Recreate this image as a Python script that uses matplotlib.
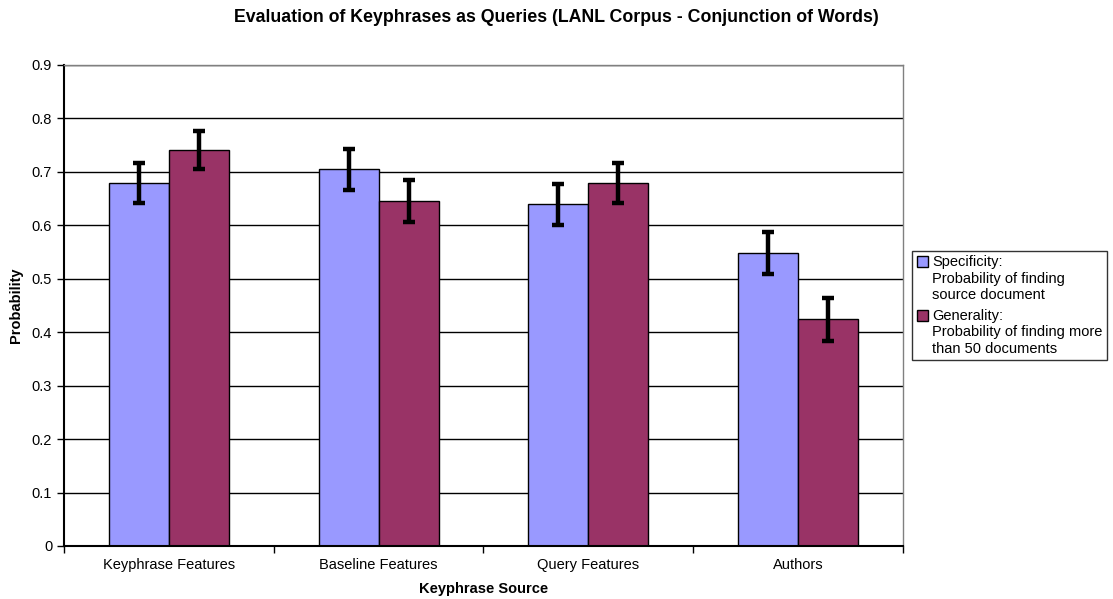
import numpy as np
import matplotlib
matplotlib.use("Agg")
from matplotlib import pyplot as plt
from matplotlib.ticker import FixedLocator
from matplotlib.legend_handler import HandlerPatch
from matplotlib.patches import Rectangle

plt.rcParams['font.family'] = ['Liberation Sans', 'DejaVu Sans']

categories = ["Keyphrase Features", "Baseline Features", "Query Features", "Authors"]
specificity = [0.679, 0.705, 0.639, 0.548]
specificity_err = [0.038, 0.038, 0.039, 0.040]
generality = [0.741, 0.645, 0.679, 0.424]
generality_err = [0.036, 0.039, 0.038, 0.040]
yticks = [0, 0.1, 0.2, 0.3, 0.4, 0.5, 0.6, 0.7, 0.8, 0.9]

FS = 10.5


# legend box sits on the first line of a 3-line label, like Excel does
class TopHandler(HandlerPatch):
    def create_artists(self, legend, orig_handle, xdescent, ydescent,
                       width, height, fontsize, trans):
        src = orig_handle.patches[0] if hasattr(orig_handle, 'patches') else orig_handle
        s = 0.75 * fontsize
        y = -ydescent + height / 2 - s / 2 + 1.2 * fontsize
        p = Rectangle((-xdescent, y), s, s, facecolor=src.get_facecolor(),
                      edgecolor='black', linewidth=1, transform=trans)
        return [p]


fig = plt.figure(figsize=(11.13, 5.99), dpi=100)
ax = fig.add_axes([0.0575, 0.0885, 0.7538, 0.803])

x = np.arange(len(categories))
w = 0.2857
err_kw = dict(ecolor='black', elinewidth=3.2, capsize=4, capthick=3.2)
b1 = ax.bar(x - w / 2, specificity, w, yerr=specificity_err, color='#9999FF',
            edgecolor='black', linewidth=1, error_kw=err_kw, zorder=2,
            label="Specificity:\nProbability of finding\nsource document")
b2 = ax.bar(x + w / 2, generality, w, yerr=generality_err, color='#993366',
            edgecolor='black', linewidth=1, error_kw=err_kw, zorder=2,
            label="Generality:\nProbability of finding more\nthan 50 documents")

ax.set_xlim(-0.5, len(categories) - 0.5)
ax.set_ylim(0, 0.9)
ax.set_yticks(yticks)
ax.set_yticklabels(["0" if v == 0 else f"{v:.1f}" for v in yticks])
ax.set_xticks(x)
ax.set_xticklabels(categories)
ax.tick_params(axis='x', length=0, pad=9, labelsize=FS)
ax.xaxis.set_minor_locator(FixedLocator(np.arange(-0.5, len(categories), 1)))
ax.tick_params(axis='x', which='minor', length=5, direction='out', width=1)
ax.tick_params(axis='y', length=5, direction='out', width=1, labelsize=FS)
ax.yaxis.grid(True, color='black', linewidth=1, zorder=0)
ax.set_axisbelow(True)

for side in ['top', 'right']:
    ax.spines[side].set_color('#808080')
    ax.spines[side].set_linewidth(1)
for side in ['left', 'bottom']:
    ax.spines[side].set_linewidth(1.5)

ax.set_xlabel("Keyphrase Source", fontsize=FS, fontweight='bold', labelpad=7)
ax.set_ylabel("Probability", fontsize=FS, fontweight='bold', labelpad=6)
fig.text(0.5, 0.97, "Evaluation of Keyphrases as Queries (LANL Corpus - Conjunction of Words)",
         fontsize=12.8, fontweight='bold', ha='center', va='center')

leg = ax.legend(loc='center left', bbox_to_anchor=(1.011, 0.5), fontsize=FS,
                frameon=True, fancybox=False, edgecolor='black', handlelength=0.8,
                handleheight=0.8, handletextpad=0.25, borderpad=0.3,
                labelspacing=0.5, borderaxespad=0,
                handler_map={b1: TopHandler(), b2: TopHandler()})
leg.get_frame().set_linewidth(1)

fig.savefig("out.png", dpi=100)
